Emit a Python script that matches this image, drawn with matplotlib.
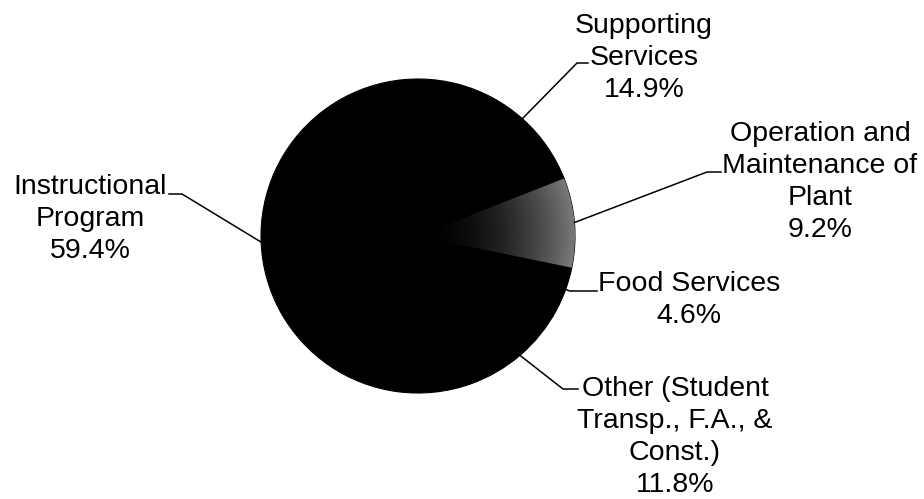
import numpy as np
import matplotlib.pyplot as plt

# slices, counter-clockwise from the top edge of the stippled wedge
names = ['Supporting\nServices', 'Instructional\nProgram',
         'Other (Student\nTransp., F.A., &\nConst.)', 'Food Services',
         'Operation and\nMaintenance of\nPlant']
shares = [14.9, 59.4, 11.8, 4.6, 9.2]

W, H = 924, 499
cx, cy, R = 418, H - 236, 157

# label placement in pixels (y from top): text centre x, last baseline y,
# leader elbow and leader tail
text_xy = [(644, 97), (90, 258), (675, 492), (689, 323), (820, 237)]
elbow = [(577, 63), (182, 194), (563, 389), (570, 291), (707, 172)]
tail = [(588, 63), (169, 194), (578, 389), (597, 291), (721, 172)]

plt.rcParams['font.family'] = ['Liberation Sans', 'DejaVu Sans']

fig = plt.figure(figsize=(9.24, 4.99), dpi=100)
ax = fig.add_axes([0, 0, 1, 1])

wedges, _ = ax.pie(shares, center=(cx, cy), radius=R, startangle=21.5,
                   counterclock=True, colors=['black'] * len(shares),
                   wedgeprops=dict(linewidth=0.8, edgecolor='black'),
                   frame=True)

# stippled look for operation & maintenance: darker toward the centre
yy, xx = np.mgrid[0:H, 0:W]
rr = np.clip(np.hypot(xx - cx, yy - cy) / R, 0, 1)
shade = rr ** 2.0 * 0.48
im = ax.imshow(shade, cmap='gray', vmin=0, vmax=1, extent=(0, W, 0, H),
               origin='lower', zorder=3, interpolation='bilinear')
im.set_clip_path(wedges[4])

for i, w in enumerate(wedges):
    th = np.deg2rad((w.theta1 + w.theta2) / 2)
    ex, ey = cx + R * np.cos(th), cy + R * np.sin(th)
    xs = [ex, elbow[i][0], tail[i][0]]
    ys = [ey, H - elbow[i][1], H - tail[i][1]]
    ax.plot(xs, ys, color='black', lw=1.1, zorder=4)
    ax.text(text_xy[i][0], H - text_xy[i][1], f'{names[i]}\n{shares[i]:.1f}%',
            ha='center', va='baseline', fontsize=20.5, linespacing=1.3,
            multialignment='center', color='black')

ax.set_xlim(0, W)
ax.set_ylim(0, H)
ax.axis('off')

fig.savefig('out.png', dpi=100, facecolor='white')
